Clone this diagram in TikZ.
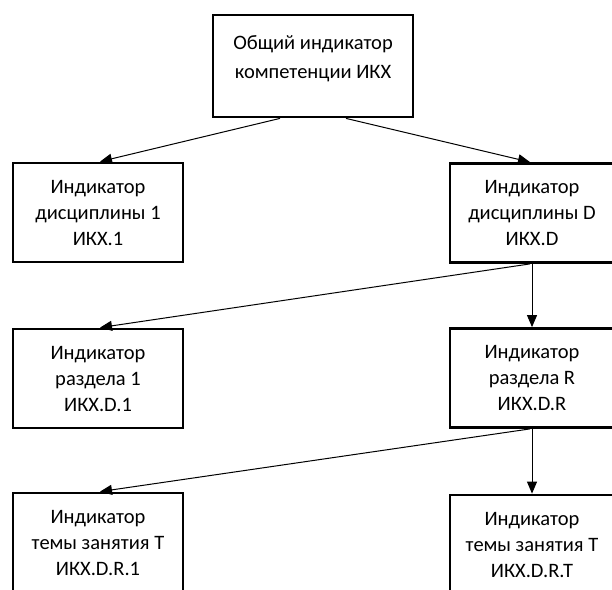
\documentclass[tikz,border=0pt]{standalone}
\usepackage{fontspec}
\setmainfont{Carlito}
\usetikzlibrary{arrows.meta}
\begin{document}
\begin{tikzpicture}[x=1pt,y=-1pt,
  box/.style={draw=black,line width=2.8pt,fill=white,align=center,inner sep=0pt,
    font=\fontsize{20.5}{26}\selectfont,text=black},
  conn/.style={draw=black,line width=1pt,-{Triangle[length=12pt,width=10pt]}}]
\clip (0,0) rectangle (612,589);
\fill[white] (0,0) rectangle (612,589);
% top
\node[box,minimum width=200pt,minimum height=102pt] (top) at (313,66) {};
\node[align=center,inner sep=0pt,font=\fontsize{20.5}{29}\selectfont,text=black] (toptext) at (313,59) {Общий индикатор\\компетенции ИКХ};
% row 2
\node[box,minimum width=170pt,minimum height=99pt] (d1) at (98,212.5) {Индикатор\\дисциплины 1\\ИКХ.1};
\node[box,minimum width=164pt,minimum height=99pt] (dD) at (532,213) {Индикатор\\дисциплины D\\ИКХ.D};
% row 3
\node[box,minimum width=170pt,minimum height=99pt] (r1) at (98,378.5) {Индикатор\\раздела 1\\ИКХ.D.1};
\node[box,minimum width=164pt,minimum height=99pt] (rR) at (532,378) {Индикатор\\раздела R\\ИКХ.D.R};
% row 4
\node[box,minimum width=170pt,minimum height=100pt] (t1) at (98,543) {Индикатор\\темы занятия Т\\ИКХ.D.R.1};
\node[box,minimum width=164pt,minimum height=100pt] (tT) at (532,545) {Индикатор\\темы занятия Т\\ИКХ.D.R.T};
% connectors
\draw[conn] ([xshift=-33pt]top.south) -- ([xshift=2pt]d1.north);
\draw[conn] ([xshift=33pt]top.south) -- ([xshift=-2pt]dD.north);
\draw[conn] ([xshift=-2pt]dD.south) -- ([xshift=2pt]r1.north);
\draw[conn] (dD.south) -- (rR.north);
\draw[conn] ([xshift=-2pt]rR.south) -- ([xshift=2pt]t1.north);
\draw[conn] (rR.south) -- (tT.north);
\end{tikzpicture}
\end{document}
